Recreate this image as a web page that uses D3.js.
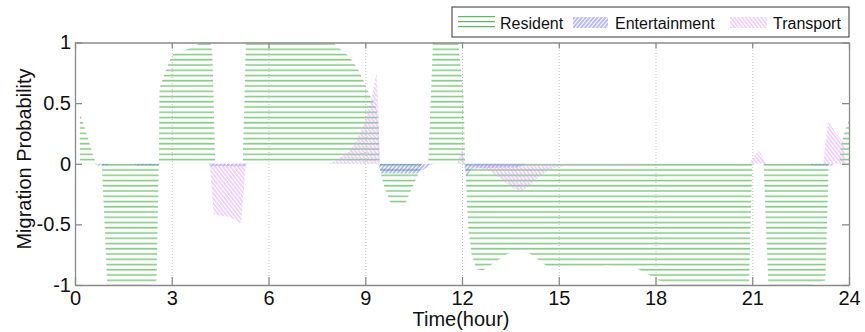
<!DOCTYPE html>
<html>
<head>
<meta charset="utf-8">
<script src="https://cdn.jsdelivr.net/npm/d3@7"></script>
<style>
  body { margin: 0; background: #fff; }
  svg { display: block; font-family: Arial, "Liberation Sans", sans-serif; }
  .axis path, .axis line { stroke: #8a8a8a; stroke-width: 1.3; }
  .axis text { fill: #111; font-size: 20px; }
  .grid line { stroke: #c4c4c4; stroke-dasharray: 1,2; }
  .grid path { display: none; }
</style>
</head>
<body>
<svg class="chart"></svg>
<script>
// values, hours -> migration probability
const residentHours = [0.15, 0.65, 0.83, 1.0, 2.33, 2.53, 2.6, 2.62, 2.8, 2.97, 3.05, 3.55, 3.9, 4.2, 4.26, 4.35,
  5.2, 5.3, 8.0, 8.2, 8.43, 8.6, 8.8, 8.95, 9.15, 9.35, 9.42, 9.45, 9.5, 9.6, 9.8, 10.2, 10.45, 10.65, 10.75,
  10.95, 11.1, 11.88, 12.05, 12.1, 12.2, 12.3, 12.45, 12.65, 12.97, 13.2, 13.43, 13.7, 14.1, 14.3, 14.5, 14.8,
  15.5, 16.5, 17.4, 17.75, 18.1, 18.4, 20.9, 21.0, 21.35, 21.5, 22.85, 23.27, 23.37, 23.7, 23.75, 23.85, 24.0];
const residentValues = [0.42, 0, 0, -1, -1, -0.96, 0, 0.62, 0.76, 0.87, 0.91, 0.95, 1, 1, 0.92, 0,
  0, 1, 1, 0.95, 0.9, 0.85, 0.77, 0.68, 0.56, 0.46, 0.3, 0, -0.1, -0.2, -0.33, -0.35, -0.2, -0.08, 0,
  0, 1, 1, 0.55, 0, -0.55, -0.75, -0.87, -0.88, -0.82, -0.78, -0.74, -0.72, -0.74, -0.78, -0.82, -0.87,
  -0.86, -0.84, -0.86, -0.91, -0.96, -1, -1, 0, 0, -1, -1, -0.96, 0, 0, 0.15, 0.25, 0.36];

const entertainmentHours = [0.6, 0.7, 1.0, 1.05, 1.8, 1.9, 2.6, 2.65, 4.15, 4.2, 5.3, 5.35, 9.4, 9.5, 10.6, 11.1,
  12.05, 12.15, 12.3, 13.7, 14.0, 22.8, 22.85, 23.5, 23.55];
const entertainmentValues = [0, -0.015, -0.015, 0, 0, -0.015, -0.015, 0, 0, -0.02, -0.02, 0, 0, -0.08, -0.08, 0,
  0, -0.1, -0.04, -0.03, 0, 0, -0.015, -0.015, 0];

const transportHours = [4.18, 4.3, 4.8, 5.15, 5.3, 7.9, 8.1, 8.5, 8.7, 9.0, 9.2, 9.35, 9.42, 9.45,
  11.85, 12.0, 12.1, 12.3, 12.8, 13.2, 13.5, 13.85, 14.1, 14.4, 14.8, 15.2, 17.5, 17.6,
  20.9, 21.2, 21.45, 23.2, 23.35, 23.6, 23.85, 23.87];
const transportValues = [0, -0.42, -0.44, -0.49, 0, 0, 0.03, 0.1, 0.18, 0.35, 0.55, 0.75, 0.4, 0,
  0, 0.12, 0, -0.02, -0.05, -0.12, -0.19, -0.23, -0.18, -0.1, -0.04, -0.02, -0.02, 0,
  0, 0.11, 0, 0, 0.35, 0.25, 0.17, 0];

const seriesNames = ["Resident", "Entertainment", "Transport"];
const xTicks = [0, 3, 6, 9, 12, 15, 18, 21, 24];
const yTicks = [-1, -0.5, 0, 0.5, 1];

const width = 865, height = 332;
const margin = { left: 75, right: 16, top: 42.5, bottom: 47 };
const plotW = width - margin.left - margin.right,
  plotH = height - margin.top - margin.bottom;

const svg = d3.select(".chart").attr("width", width).attr("height", height);
const defs = svg.append("defs");

// hatch patterns, lines only, no fill
defs.append("pattern").attr("id", "hatch-res")
  .attr("patternUnits", "userSpaceOnUse").attr("width", 10).attr("height", 5.25)
  .append("line").attr("x1", 0).attr("x2", 10).attr("y1", 1.5).attr("y2", 1.5)
  .attr("stroke", "#84cb84").attr("stroke-width", 1.6);
defs.append("pattern").attr("id", "hatch-ent")
  .attr("patternUnits", "userSpaceOnUse").attr("width", 3).attr("height", 10)
  .attr("patternTransform", "rotate(40)")
  .append("line").attr("x1", 1).attr("x2", 1).attr("y1", 0).attr("y2", 10)
  .attr("stroke", "#7878f2").attr("stroke-width", 1);
defs.append("pattern").attr("id", "hatch-tra")
  .attr("patternUnits", "userSpaceOnUse").attr("width", 3).attr("height", 10)
  .attr("patternTransform", "rotate(-38)")
  .append("line").attr("x1", 1).attr("x2", 1).attr("y1", 0).attr("y2", 10)
  .attr("stroke", "#dcaaf4").attr("stroke-width", 1);

const x = d3.scaleLinear().domain([0, 24]).range([0, plotW]);
const y = d3.scaleLinear().domain([-1, 1]).range([plotH, 0]);

const g = svg.append("g").attr("transform", `translate(${margin.left},${margin.top})`);

// dotted vertical grid
g.append("g").attr("class", "grid")
  .attr("transform", `translate(0,${plotH})`)
  .call(d3.axisBottom(x).tickValues(xTicks.slice(1, -1)).tickSize(-plotH).tickFormat(""));

const area = d3.area()
  .x(d => x(d[0]))
  .y0(y(0))
  .y1(d => y(d[1]));

const series = [
  [residentHours, residentValues, "url(#hatch-res)"],
  [entertainmentHours, entertainmentValues, "url(#hatch-ent)"],
  [transportHours, transportValues, "url(#hatch-tra)"]
];
series.forEach(([hs, vs, fill]) => {
  g.append("path")
    .datum(hs.map((h, i) => [h, vs[i]]))
    .attr("d", area)
    .attr("fill", fill)
    .attr("stroke", "none");
});

// axes box, ticks pointing in
g.append("g").attr("class", "axis")
  .attr("transform", `translate(0,${plotH})`)
  .call(d3.axisBottom(x).tickValues(xTicks).tickSizeInner(-8).tickSizeOuter(0).tickPadding(6));
g.append("g").attr("class", "axis")
  .call(d3.axisTop(x).tickValues(xTicks).tickSizeInner(-6).tickSizeOuter(0).tickFormat(""));
g.append("g").attr("class", "axis")
  .call(d3.axisLeft(y).tickValues(yTicks).tickSizeInner(-7).tickSizeOuter(0).tickPadding(4)
    .tickFormat(d => String(d)));
g.append("g").attr("class", "axis")
  .attr("transform", `translate(${plotW},0)`)
  .call(d3.axisRight(y).tickValues(yTicks).tickSizeInner(-7).tickSizeOuter(0).tickFormat(""));

svg.append("text")
  .attr("x", margin.left + plotW / 2 - 1).attr("y", 326)
  .attr("text-anchor", "middle").attr("font-size", 20).attr("fill", "#111")
  .text("Time(hour)");
svg.append("text")
  .attr("transform", "translate(31,159) rotate(-90)")
  .attr("text-anchor", "middle").attr("font-size", 20).attr("fill", "#111")
  .text("Migration Probability");

// legend
const legend = svg.append("g");
legend.append("rect")
  .attr("x", 452).attr("y", 7).attr("width", 397).attr("height", 30)
  .attr("fill", "#fff").attr("stroke", "#333").attr("stroke-width", 1);
const swatchX = [458, 573, 730], labelX = [500, 615, 773];
[16.7, 21.7, 26.7].forEach(ly => {
  legend.append("line").attr("x1", swatchX[0]).attr("x2", swatchX[0] + 37)
    .attr("y1", ly).attr("y2", ly).attr("stroke", "#5fb95f").attr("stroke-width", 1.3);
});
legend.append("rect").attr("x", swatchX[1]).attr("y", 17).attr("width", 35).attr("height", 11)
  .attr("fill", "url(#hatch-ent)");
legend.append("rect").attr("x", swatchX[2]).attr("y", 17).attr("width", 37).attr("height", 11)
  .attr("fill", "url(#hatch-tra)");
seriesNames.forEach((name, i) => {
  legend.append("text").attr("x", labelX[i]).attr("y", 28.5)
    .attr("font-size", 16).attr("fill", "#111").text(name);
});
</script>
</body>
</html>
